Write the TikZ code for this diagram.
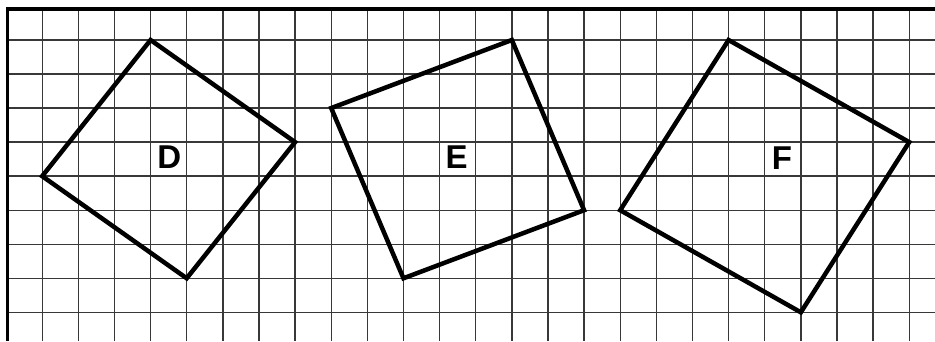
\documentclass[tikz,border=0pt]{standalone}
\usepackage{fontspec}
\setmainfont{Liberation Sans}
\begin{document}
\begin{tikzpicture}[x=1pt,y=-1pt,
  gridline/.style={draw=black!78,line width=1.4pt},
  frameline/.style={draw=black,line width=3.4pt},
  figline/.style={draw=black,line width=4.5pt,line join=miter},
  letter/.style={font=\bfseries\fontsize{33}{33}\selectfont,anchor=base,inner sep=0pt}]
\useasboundingbox (0,0) rectangle (935,341);
\fill[white] (0,0) rectangle (935,341);
% grid
\foreach \k in {0,...,24}{
  \draw[gridline] ({42.2+36.125*\k},9) -- ({42.2+36.125*\k},341);
}
\foreach \j in {0,...,8}{
  \draw[gridline] (7.5,{40+34.04*\j}) -- (935,{40+34.04*\j});
}
% frame
\draw[frameline] (7.5,341) -- (7.5,9) -- (935,9);
\begin{scope}[shift={(42.2,40)},x=36.125pt,y=-34.04pt]
  % D
  \coordinate (d1) at (3,0);
  \coordinate (d2) at (7,3);
  \coordinate (d3) at (4,7);
  \coordinate (d4) at (0,4);
  \draw[figline] (d1) -- (d2) -- (d3) -- (d4) -- cycle;
  % E
  \coordinate (e1) at (8,2);
  \coordinate (e2) at (13,0);
  \coordinate (e3) at (15,5);
  \coordinate (e4) at (10,7);
  \draw[figline] (e1) -- (e2) -- (e3) -- (e4) -- cycle;
  % F
  \coordinate (f1) at (16,5);
  \coordinate (f2) at (19,0);
  \coordinate (f3) at (24,3);
  \coordinate (f4) at (21,8);
  \draw[figline] (f1) -- (f2) -- (f3) -- (f4) -- cycle;
\end{scope}
\node[letter] (labD) at (169.2,168) {D};
\node[letter] (labE) at (456.7,168) {E};
\node[letter] (labF) at (782,169) {F};
\end{tikzpicture}
\end{document}
